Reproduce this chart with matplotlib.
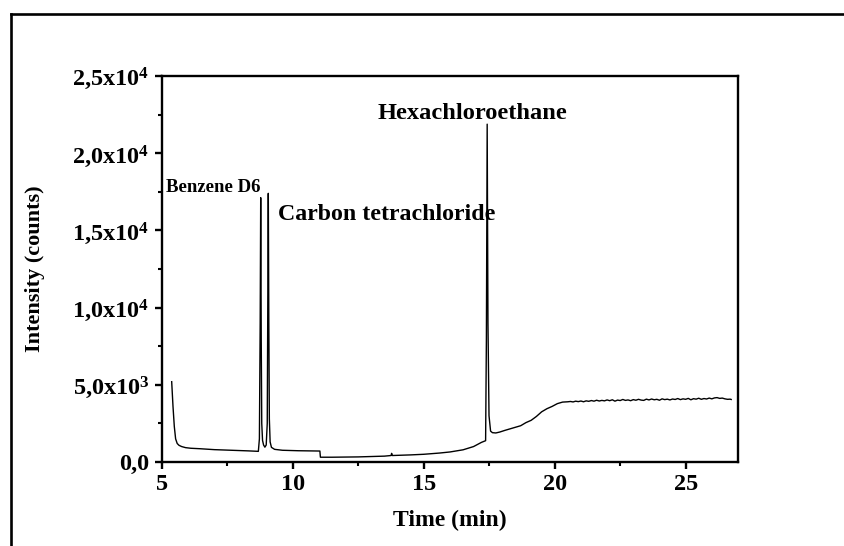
import matplotlib
matplotlib.use("Agg")
import matplotlib.pyplot as plt
from matplotlib.lines import Line2D
from matplotlib.ticker import FixedLocator, FixedFormatter, MultipleLocator

plt.rcParams['font.family'] = ['Liberation Serif', 'DejaVu Serif']
plt.rcParams['font.weight'] = 'bold'
plt.rcParams['mathtext.fontset'] = 'custom'
plt.rcParams['mathtext.rm'] = 'Liberation Serif:bold'
plt.rcParams['mathtext.it'] = 'Liberation Serif:bold'
plt.rcParams['mathtext.bf'] = 'Liberation Serif:bold'

# ---- data ----
time = [5.37, 5.42, 5.47, 5.52, 5.58, 5.65, 5.75, 5.9, 6.1, 6.45, 7.0, 7.7, 8.3, 8.68,
        8.72, 8.75, 8.77, 8.79, 8.81, 8.84, 8.88, 8.93, 8.98, 9.02, 9.04, 9.06, 9.08,
        9.10, 9.13, 9.18, 9.3, 9.6, 10.2, 10.7, 11.03, 11.05, 11.5, 12.5, 13.5, 13.75,
        13.77, 13.8, 14.5, 15.0, 15.6, 16.0, 16.5, 16.9, 17.2, 17.36, 17.39, 17.42,
        17.45, 17.49, 17.55, 17.62, 17.75, 17.9, 18.1, 18.3, 18.5, 18.7, 18.9, 19.1,
        19.3, 19.5, 19.7, 19.9, 20.1, 20.3, 20.5,
        20.6, 20.7, 20.8, 20.9, 21.0, 21.1, 21.2, 21.3, 21.4, 21.5, 21.6, 21.7, 21.8,
        21.9, 22.0, 22.1, 22.2, 22.3, 22.4, 22.5, 22.6, 22.7, 22.8, 22.9, 23.0, 23.1,
        23.2, 23.3, 23.4, 23.5, 23.6, 23.7, 23.8, 23.9, 24.0, 24.1, 24.2, 24.3, 24.4,
        24.5, 24.6, 24.7, 24.8, 24.9, 25.0, 25.1, 25.2, 25.3, 25.4, 25.5, 25.6, 25.7,
        25.8, 25.9, 26.0, 26.1, 26.2, 26.3, 26.4, 26.5, 26.6, 26.7, 26.74]
intensity = [5200, 3600, 2300, 1500, 1200, 1080, 1000, 930, 890, 860, 800, 760, 720, 690,
             1500, 9000, 17120, 8000, 2500, 1400, 1100, 960, 1100, 2500, 10000, 17400, 9000,
             2800, 1300, 950, 820, 760, 730, 720, 710, 310, 310, 330, 380, 420,
             560, 420, 460, 500, 580, 650, 790, 1000, 1270, 1380, 8000, 21880,
             9000, 3000, 2000, 1900, 1880, 1940, 2050, 2150, 2250, 2350, 2550, 2700,
             2950, 3250, 3450, 3600, 3780, 3880, 3900,
             3920, 3890, 3940, 3910, 3950, 3900, 3960, 3930, 3980, 3940, 4000, 3950, 3990,
             3960, 4020, 3970, 4030, 3940, 4010, 3980, 4050, 3990, 4020, 3970, 4040, 4000,
             4060, 4010, 3990, 4070, 4020, 4080, 4030, 4060, 4000, 4090, 4040, 4070, 4020,
             4080, 4050, 4110, 4040, 4090, 4060, 4120, 4030, 4100, 4070, 4130, 4060, 4110,
             4080, 4140, 4090, 4150, 4170, 4120, 4140, 4090, 4060, 4070, 4050]

x_ticks = [5, 10, 15, 20, 25]
x_tick_labels = ['5', '10', '15', '20', '25']
y_ticks = [0, 5000, 10000, 15000, 20000, 25000]
y_tick_labels = ['0,0', '5,0x10$^{3}$', '1,0x10$^{4}$', '1,5x10$^{4}$',
                 '2,0x10$^{4}$', '2,5x10$^{4}$']

peak_labels = ['Benzene D6', 'Carbon tetrachloride', 'Hexachloroethane']
peak_label_x = [5.15, 9.43, 13.24]
peak_label_y = [17500, 15650, 22200]
peak_label_size = [13.5, 17.2, 17.6]

# ---- figure ----
fig = plt.figure(figsize=(8.44, 5.46), dpi=100)
ax = fig.add_axes([162 / 844, 84 / 546, 576 / 844, 386 / 546])

ax.plot(time, intensity, color='black', lw=1.0)

ax.set_xlim(5, 27)
ax.set_ylim(0, 25000)

ax.xaxis.set_major_locator(FixedLocator(x_ticks))
ax.xaxis.set_major_formatter(FixedFormatter(x_tick_labels))
ax.xaxis.set_minor_locator(MultipleLocator(2.5))
ax.yaxis.set_major_locator(FixedLocator(y_ticks))
ax.yaxis.set_major_formatter(FixedFormatter(y_tick_labels))
ax.yaxis.set_minor_locator(MultipleLocator(2500))

for sp in ax.spines.values():
    sp.set_linewidth(1.7)

ax.tick_params(which='major', direction='out', length=5, width=1.7,
               labelsize=17.5, pad=4)
ax.tick_params(which='minor', direction='out', length=3, width=1.5)
ax.tick_params(axis='x', which='major', pad=4)
for lab in ax.get_xticklabels() + ax.get_yticklabels():
    lab.set_fontweight('bold')

ax.set_xlabel('Time (min)', fontsize=17, fontweight='bold', labelpad=10)
ax.set_ylabel('Intensity (counts)', fontsize=16, fontweight='bold', labelpad=20)

for txt, tx, ty, fs in zip(peak_labels, peak_label_x, peak_label_y, peak_label_size):
    ax.text(tx, ty, txt, fontsize=fs, fontweight='bold', ha='left', va='baseline')

# outer frame (left and top edges visible)
fx = 10.7 / 844
fy = 1 - 13.5 / 546
fig.add_artist(Line2D([fx, fx], [0, fy], transform=fig.transFigure,
                      color='black', lw=1.9))
fig.add_artist(Line2D([fx, 1.0], [fy, fy], transform=fig.transFigure,
                      color='black', lw=1.9))

fig.savefig('out.png', dpi=100)
